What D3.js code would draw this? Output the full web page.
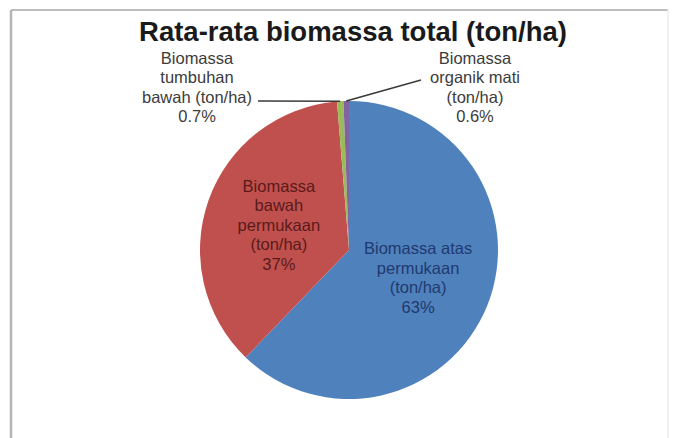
<!DOCTYPE html>
<html>
<head>
<meta charset="utf-8">
<script src="https://cdn.jsdelivr.net/npm/d3@7/dist/d3.min.js"></script>
<style>
  html, body { margin: 0; padding: 0; background: #fff; }
  svg { display: block; }
</style>
</head>
<body>
<svg id="chart" width="673" height="438"></svg>
<script>
// ---- data ----
const title = "Rata-rata biomassa total (ton/ha)";
const categories = [
  "Biomassa atas permukaan (ton/ha)",
  "Biomassa bawah permukaan (ton/ha)",
  "Biomassa tumbuhan bawah (ton/ha)",
  "Biomassa organik mati (ton/ha)"
];
const values = [63, 37, 0.7, 0.6];
const percentLabels = ["63%", "37%", "0.7%", "0.6%"];
const labelLines = [
  ["Biomassa atas", "permukaan", "(ton/ha)"],
  ["Biomassa", "bawah", "permukaan", "(ton/ha)"],
  ["Biomassa", "tumbuhan", "bawah (ton/ha)"],
  ["Biomassa", "organik mati", "(ton/ha)"]
];
const colors = ["#4F81BD", "#C0504D", "#9BBB59", "#8064A2"];
const labelColors = ["#1F3A6E", "#5A1A1A", "#3c3c3c", "#3c3c3c"];

// ---- layout ----
const cx = 349, cy = 250, R = 149;
const font = "'Liberation Sans', Arial, sans-serif";
const svg = d3.select("#chart");

// chart frame
svg.append("line").attr("x1", 11).attr("y1", 10).attr("x2", 668).attr("y2", 10)
  .attr("stroke", "#bdbdbd").attr("stroke-width", 2);
svg.append("line").attr("x1", 11).attr("y1", 10).attr("x2", 11).attr("y2", 438)
  .attr("stroke", "#b5b5b5").attr("stroke-width", 2.5);
svg.append("line").attr("x1", 668).attr("y1", 10).attr("x2", 668).attr("y2", 438)
  .attr("stroke", "#ececec").attr("stroke-width", 1.5);

// title
svg.append("text")
  .attr("x", 353).attr("y", 41)
  .attr("text-anchor", "middle")
  .attr("font-family", font)
  .attr("font-weight", "bold")
  .attr("font-size", 27.5)
  .attr("fill", "#1a1a1a")
  .text(title);

const data = categories.map((c, i) => ({ cat: c, value: values[i], i }));
const pie = d3.pie().value(d => d.value).sort(null);
const arcs = pie(data);
const arc = d3.arc().innerRadius(0).outerRadius(R);

const g = svg.append("g").attr("transform", `translate(${cx},${cy})`);

g.selectAll("path.slice")
  .data(arcs)
  .join("path")
  .attr("class", "slice")
  .attr("d", arc)
  .attr("fill", d => colors[d.data.i]);

const lineH = 19.5;
const fs = 16.5;

// inside labels (first two slices)
arcs.slice(0, 2).forEach(a => {
  const i = a.data.i;
  const [x, y] = arc.centroid(a);
  const lines = labelLines[i].concat([percentLabels[i]]);
  const y0 = y - (lines.length - 1) * lineH / 2;
  const t = g.append("text")
    .attr("text-anchor", "middle")
    .attr("font-family", font)
    .attr("font-size", fs)
    .attr("fill", labelColors[i]);
  lines.forEach((ln, k) => {
    t.append("tspan").attr("x", x).attr("y", y0 + k * lineH).attr("dy", "0.35em").text(ln);
  });
});

// outside labels (small slices) with leader lines
const outside = [
  { i: 2, lx: 197 - cx, ly0: 58 - cy, end: [258 - cx, 101 - cy] },
  { i: 3, lx: 475 - cx, ly0: 58 - cy, end: [421 - cx, 80 - cy] }
];
outside.forEach(o => {
  const a = arcs[o.i];
  const mid = (a.startAngle + a.endAngle) / 2;
  const px = Math.sin(mid) * R, py = -Math.cos(mid) * R;
  g.append("line")
    .attr("x1", px).attr("y1", py)
    .attr("x2", o.end[0]).attr("y2", o.end[1])
    .attr("stroke", "#3a3a3a")
    .attr("stroke-width", 1.6);
  const lines = labelLines[o.i].concat([percentLabels[o.i]]);
  const t = g.append("text")
    .attr("text-anchor", "middle")
    .attr("font-family", font)
    .attr("font-size", fs)
    .attr("fill", labelColors[o.i]);
  lines.forEach((ln, k) => {
    t.append("tspan").attr("x", o.lx).attr("y", o.ly0 + k * lineH).attr("dy", "0.35em").text(ln);
  });
});
</script>
</body>
</html>
